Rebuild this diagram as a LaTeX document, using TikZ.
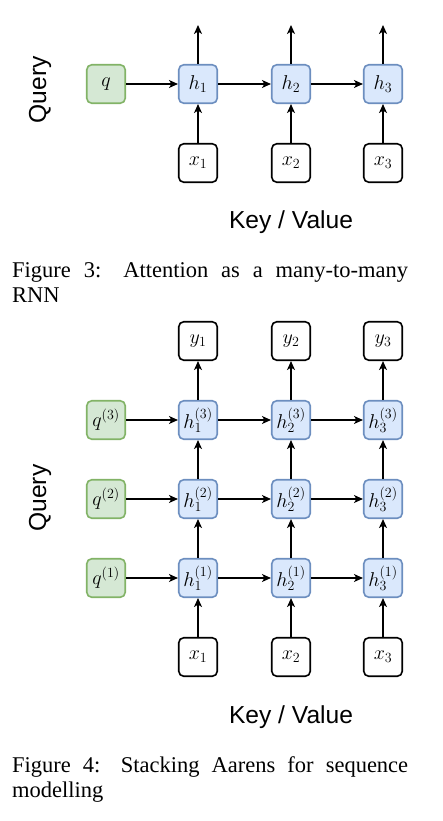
\documentclass[tikz,border=0pt]{standalone}
\usepackage{fix-cm}
\usepackage{fontspec}
\setmainfont{Liberation Serif}
\newfontfamily\labelfont{Liberation Sans}
\usetikzlibrary{arrows.meta, positioning}
\definecolor{query-fill}{HTML}{D5E8D4}
\definecolor{query-line}{HTML}{82B366}
\definecolor{state-fill}{HTML}{DAE8FC}
\definecolor{state-line}{HTML}{6C8EBF}
\tikzstyle{cell} = [rectangle, rounded corners=5pt, draw, minimum size=38.5pt, inner sep=0pt, line width=1.6pt, font=\fontsize{20}{24}\selectfont]
\tikzstyle{querycell} = [cell, fill=query-fill, draw=query-line]
\tikzstyle{statecell} = [cell, fill=state-fill, draw=state-line]
\tikzstyle{tokencell} = [cell, fill=white, draw=black]
\tikzstyle{flow} = [line width=1.5pt, -{Stealth[length=9pt, width=8pt, inset=2.5pt]}]
\tikzstyle{axislabel} = [inner sep=0pt, font=\labelfont\fontsize{24.6}{28}\selectfont]
\tikzstyle{caption} = [anchor=base west, inner sep=0pt, font=\fontsize{22.5}{25}\selectfont]

\begin{document}
\begin{tikzpicture}[x=1pt, y=-1pt]
    \useasboundingbox (0, 0) rectangle (443, 821);

    % Figure 3: single layer
    \node[axislabel, rotate=90] at (40, 90) (query_a) {Query};
    \node[querycell] at (106, 84) (q) {$q$};
        \node[statecell] at (198, 84) (h1) {$h_1$};
        \node[statecell] at (291, 84) (h2) {$h_2$};
        \node[statecell] at (383, 84) (h3) {$h_3$};
        \node[tokencell] at (198, 163) (xa1) {$x_1$};
        \node[tokencell] at (291, 163) (xa2) {$x_2$};
        \node[tokencell] at (383, 163) (xa3) {$x_3$};
        \coordinate (out1) at (198, 25);
        \coordinate (out2) at (291, 25);
        \coordinate (out3) at (383, 25);
    \node[axislabel] at (291, 222) (keyvalue_a) {Key / Value};

        \draw[flow] (q) -- (h1);
        \draw[flow] (h1) -- (h2);
        \draw[flow] (h2) -- (h3);
        \draw[flow] (xa1) -- (h1);
        \draw[flow] (xa2) -- (h2);
        \draw[flow] (xa3) -- (h3);
        \draw[flow] (h1) -- (out1);
        \draw[flow] (h2) -- (out2);
        \draw[flow] (h3) -- (out3);

    \node[caption] at (12, 277) (caption_a1) {\makebox[396pt][s]{Figure 3: Attention as a many-to-many}};
    \node[caption] at (12, 302) (caption_a2) {RNN};

    % Figure 4: stacked layers
    \node[axislabel, rotate=90] at (40, 498) (query_b) {Query};
    \node[tokencell] at (198, 341) (y1) {$y_1$};
    \node[tokencell] at (291, 341) (y2) {$y_2$};
    \node[tokencell] at (383, 341) (y3) {$y_3$};

    \node[querycell] at (106, 420) (q3) {$q^{(3)}$};
        \node[statecell] at (198, 420) (h13) {$h_1^{(3)}$};
        \node[statecell] at (291, 420) (h23) {$h_2^{(3)}$};
        \node[statecell] at (383, 420) (h33) {$h_3^{(3)}$};
    \node[querycell] at (106, 499) (q2) {$q^{(2)}$};
        \node[statecell] at (198, 499) (h12) {$h_1^{(2)}$};
        \node[statecell] at (291, 499) (h22) {$h_2^{(2)}$};
        \node[statecell] at (383, 499) (h32) {$h_3^{(2)}$};
    \node[querycell] at (106, 578) (q1) {$q^{(1)}$};
        \node[statecell] at (198, 578) (h11) {$h_1^{(1)}$};
        \node[statecell] at (291, 578) (h21) {$h_2^{(1)}$};
        \node[statecell] at (383, 578) (h31) {$h_3^{(1)}$};

    \node[tokencell] at (198, 657) (xb1) {$x_1$};
    \node[tokencell] at (291, 657) (xb2) {$x_2$};
    \node[tokencell] at (383, 657) (xb3) {$x_3$};
    \node[axislabel] at (291, 717) (keyvalue_b) {Key / Value};

        \draw[flow] (q3) -- (h13);
        \draw[flow] (h13) -- (h23);
        \draw[flow] (h23) -- (h33);
        \draw[flow] (q2) -- (h12);
        \draw[flow] (h12) -- (h22);
        \draw[flow] (h22) -- (h32);
        \draw[flow] (q1) -- (h11);
        \draw[flow] (h11) -- (h21);
        \draw[flow] (h21) -- (h31);

        \draw[flow] (xb1) -- (h11);
        \draw[flow] (xb2) -- (h21);
        \draw[flow] (xb3) -- (h31);
        \draw[flow] (h11) -- (h12);
        \draw[flow] (h21) -- (h22);
        \draw[flow] (h31) -- (h32);
        \draw[flow] (h12) -- (h13);
        \draw[flow] (h22) -- (h23);
        \draw[flow] (h32) -- (h33);
        \draw[flow] (h13) -- (y1);
        \draw[flow] (h23) -- (y2);
        \draw[flow] (h33) -- (y3);

    \node[caption] at (12, 772) (caption_b1) {\makebox[396pt][s]{Figure 4: Stacking Aarens for sequence}};
    \node[caption] at (12, 797) (caption_b2) {modelling};
\end{tikzpicture}
\end{document}
